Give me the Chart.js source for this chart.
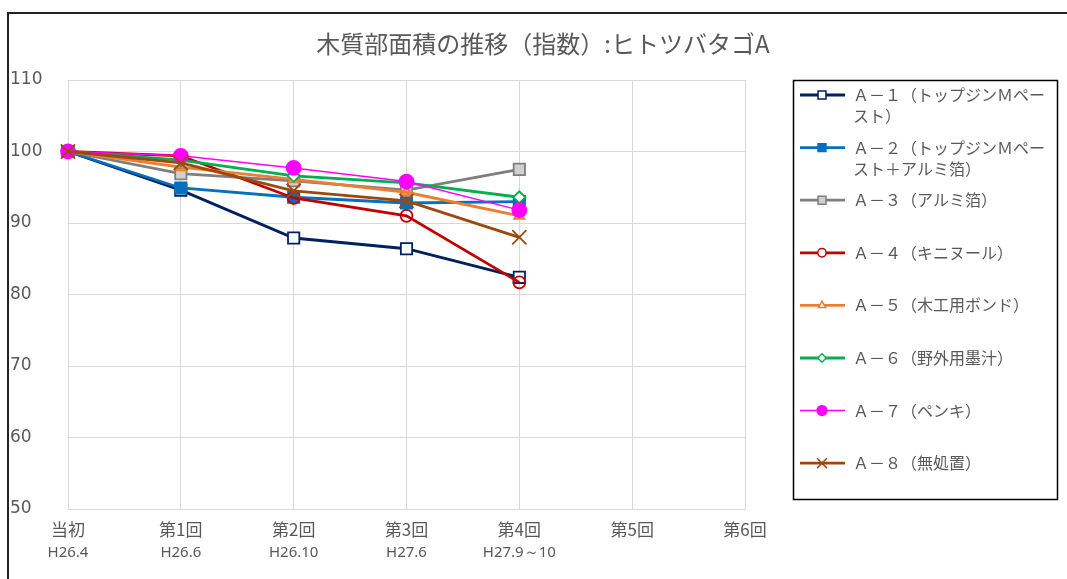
<!DOCTYPE html>
<html>
<head>
<meta charset="utf-8">
<script src="https://cdn.jsdelivr.net/npm/chart.js@4.4.1/dist/chart.umd.min.js"></script>
<style>
    body { margin: 0; background: #fff; }
    #frame { position: absolute; left: 7px; top: 12px; width: 1070px; height: 580px; border-left: 2px solid #222; border-top: 2px solid #222; }
    #wrap { position: absolute; left: 0; top: 0; width: 1067px; height: 579px; }
</style>
</head>
<body>
<div id="frame"></div>
<div id="wrap"><canvas id="chart" width="1067" height="579"></canvas></div>
<script>
// Categories (two label lines) and y ticks
const categories = ['当初', '第1回', '第2回', '第3回', '第4回', '第5回', '第6回'];
const dates = ['H26.4', 'H26.6', 'H26.10', 'H27.6', 'H27.9～10', '', ''];
const yMin = 50;
const yMax = 110;
const yStep = 10;

const chartTitle = '木質部面積の推移（指数）:ヒトツバタゴA';

// Series names
const seriesNames = [
    'Ａ－１（トップジンＭペースト）',
    'Ａ－２（トップジンＭペースト＋アルミ箔）',
    'Ａ－３（アルミ箔）',
    'Ａ－４（キニヌール）',
    'Ａ－５（木工用ボンド）',
    'Ａ－６（野外用墨汁）',
    'Ａ－７（ペンキ）',
    'Ａ－８（無処置）'
];

// Index values
const a1 = [100, 94.6, 87.9, 86.4, 82.4];
const a2 = [100, 94.9, 93.6, 92.8, 93.0];
const a3 = [100, 96.9, 95.9, 94.6, 97.5];
const a4 = [100, 99.4, 93.5, 91.0, 81.7];
const a5 = [100, 97.8, 96.1, 94.3, 91.0];
const a6 = [100, 98.8, 96.6, 95.6, 93.6];
const a7 = [100, 99.4, 97.7, 95.8, 91.8];
const a8 = [100, 98.4, 94.5, 93.1, 88.0];

const seriesValues = [a1, a2, a3, a4, a5, a6, a7, a8];

// Look of each series
const styles = [
    { color: '#002060', fill: '#ffffff', point: 'rect', radius: 8, width: 2.8 },
    { color: '#0070C0', fill: '#0070C0', point: 'rect', radius: 8, width: 2.8 },
    { color: '#7F7F7F', fill: '#D0D0D0', point: 'rect', radius: 8, width: 2.8 },
    { color: '#C00000', fill: 'rgba(255,255,255,0)', point: 'circle', radius: 6, width: 2.8 },
    { color: '#ED7D31', fill: 'rgba(255,255,255,0)', point: 'triangle', radius: 6, width: 2.8 },
    { color: '#00B050', fill: '#ffffff', point: 'rectRot', radius: 6, width: 2.8 },
    { color: '#FF00FF', fill: '#FF00FF', point: 'circle', radius: 7, width: 1.5 },
    { color: '#9E480E', fill: '#9E480E', point: 'crossRot', radius: 10, width: 2.8 }
];

const textColor = '#595959';
const gridColor = '#D9D9D9';
const cjkFont = '"Noto Sans CJK JP", "Noto Sans", sans-serif';

// Build datasets
const datasets = seriesValues.map((values, i) => ({
    label: seriesNames[i],
    data: values,
    borderColor: styles[i].color,
    backgroundColor: styles[i].fill,
    borderWidth: styles[i].width,
    pointStyle: styles[i].point,
    pointRadius: styles[i].radius,
    pointBorderColor: styles[i].color,
    pointBackgroundColor: styles[i].fill,
    pointBorderWidth: 1.8,
    tension: 0,
    order: seriesValues.length - i
}));

// Function to wrap a legend label into lines
function wrapText(ctx, text, maxWidth) {
    let lines = [];
    let line = '';
    for (const ch of text) {
        if (ctx.measureText(line + ch).width > maxWidth && line) {
            lines.push(line);
            line = ch;
        } else {
            line += ch;
        }
    }
    lines.push(line);
    return lines;
}

// Title centred over the whole chart, and legend in a framed box on the right
const titleAndLegend = {
    id: 'titleAndLegend',
    afterDraw(chart) {
        const ctx = chart.ctx;
        ctx.save();

        ctx.fillStyle = textColor;
        ctx.font = '24px ' + cjkFont;
        ctx.textAlign = 'center';
        ctx.textBaseline = 'middle';
        ctx.fillText(chartTitle, 543, 44);

        ctx.textAlign = 'left';
        ctx.strokeStyle = '#000';
        ctx.lineWidth = 1.5;
        ctx.strokeRect(793.5, 80.5, 264, 419);

        ctx.font = '16px ' + cjkFont;
        chart.data.datasets.forEach((ds, i) => {
            const y = 95 + i * 52.6;
            ctx.strokeStyle = ds.borderColor;
            ctx.lineWidth = ds.borderWidth;
            ctx.beginPath();
            ctx.moveTo(800, y);
            ctx.lineTo(845, y);
            ctx.stroke();

            ctx.fillStyle = ds.pointBackgroundColor;
            ctx.strokeStyle = ds.pointBorderColor;
            ctx.lineWidth = 1.5;
            if (ds.pointBackgroundColor.indexOf('rgba') === 0) {
                ctx.fillStyle = '#ffffff';
            }
            Chart.helpers.drawPoint(ctx, {
                pointStyle: ds.pointStyle,
                radius: ds.pointRadius * 0.7,
                rotation: 0,
                borderWidth: 1.5
            }, 822, y);

            ctx.fillStyle = textColor;
            const lines = wrapText(ctx, ds.label, 200);
            lines.forEach((txt, k) => ctx.fillText(txt, 853, y + k * 21));
        });
        ctx.restore();
    }
};

new Chart(document.getElementById('chart').getContext('2d'), {
    type: 'line',
    data: { labels: categories, datasets: datasets },
    options: {
        responsive: false,
        animation: false,
        layout: { padding: { left: 10, right: 322, top: 80, bottom: 0 } },
        plugins: {
            legend: { display: false },
            tooltip: { enabled: false },
            title: { display: false }
        },
        scales: {
            x: {
                type: 'category',
                offset: false,
                grid: { color: gridColor, drawTicks: false },
                border: { color: gridColor },
                ticks: { color: textColor, font: { family: cjkFont, size: 17 }, padding: 10, maxRotation: 0, autoSkip: false },
                afterFit(scale) { scale.height = 33; }
            },
            x2: {
                type: 'category',
                labels: dates,
                position: 'bottom',
                offset: false,
                grid: { display: false, drawTicks: false },
                border: { display: false },
                ticks: { color: textColor, font: { family: '"Noto Sans", sans-serif', size: 15 }, padding: 2, maxRotation: 0, autoSkip: false },
                afterFit(scale) { scale.height = 37; }
            },
            y: {
                min: yMin,
                max: yMax,
                grid: { color: gridColor, drawTicks: false },
                border: { color: gridColor },
                ticks: { stepSize: yStep, color: textColor, font: { family: '"DejaVu Sans", sans-serif', size: 17 }, crossAlign: 'far', padding: 8 },
                afterFit(scale) { scale.width = 58; }
            }
        }
    },
    plugins: [titleAndLegend]
});
</script>
</body>
</html>
